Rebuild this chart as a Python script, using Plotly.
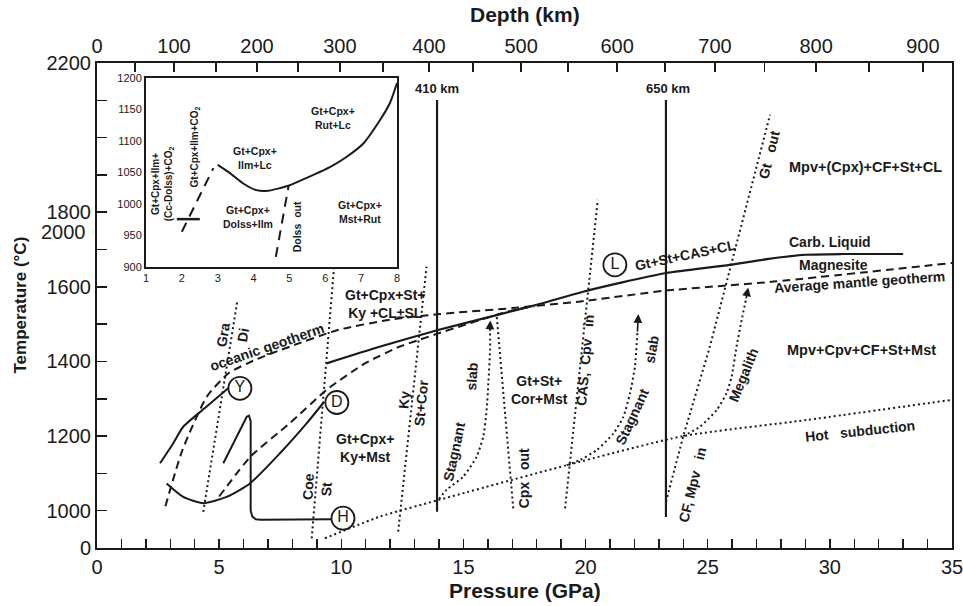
import plotly.graph_objects as go

# ---------------- axis data ----------------
pressure_ticks = list(range(0, 36))
pressure_labels = [str(p) if p % 5 == 0 else "" for p in pressure_ticks]

depth_km = [0, 50, 100, 150, 200, 250, 300, 350, 400, 450, 500, 550, 600, 650, 700, 750, 800, 850, 900]
depth_P = [0, 1.56, 3.15, 4.87, 6.55, 8.23, 9.94, 11.70, 13.59, 15.39, 17.36, 19.28, 21.29,
           23.25, 25.3, 27.33, 29.44, 31.6, 33.81]
depth_labels = [str(d) if d % 100 == 0 else "" for d in depth_km]

temp_ticks = [900, 1000, 1100, 1200, 1300, 1400, 1500, 1600, 1700, 1800, 1900, 2000, 2100, 2200]
temp_labels = ["0", "1000", "", "1200", "", "1400", "", "1600", "", "1800", "", "", "", "2200"]

# ---------------- main curves (P in GPa, T in degC) ----------------
geotherm_P = [2.8, 3.5, 4.5, 5.4, 6.5, 7.9, 9.9, 12.0, 14.0, 17.0, 19.8, 23.3, 27.7, 35.0]
geotherm_T = [1012, 1163, 1306, 1369, 1405, 1440, 1485, 1512, 1527, 1543, 1561, 1590, 1614, 1664]

slab_geo_P = [5.0, 6.3, 7.9, 9.4, 11.0, 12.4, 13.2, 14.0, 15.0, 16.0, 17.0, 17.9]
slab_geo_T = [1038, 1146, 1235, 1324, 1396, 1440, 1458, 1476, 1497, 1518, 1537, 1548]

carb_P = [9.4, 11.6, 14.0, 16.4, 18.0, 19.9, 21.5, 23.3, 25.9, 27.5, 29.0, 30.5, 33.0]
carb_T = [1395, 1440, 1485, 1525, 1552, 1587, 1612, 1637, 1659, 1675, 1686, 1688, 1688]

pathY_P = [2.58, 3.12, 3.53, 4.49, 5.44]
pathY_T = [1127, 1181, 1225, 1279, 1332]

pathD_P = [2.85, 3.53, 4.35, 5.31, 6.26, 7.49, 8.58, 9.3]
pathD_T = [1073, 1037, 1020, 1037, 1073, 1154, 1234, 1292]

pathH_P = [5.17, 5.85, 6.13, 6.22, 6.29, 6.29, 6.36, 6.50, 6.70, 9.62]
pathH_T = [1127, 1216, 1252, 1255, 1240, 1000, 984, 977, 976, 977]

wall410_P = [13.92, 13.92]
wall410_T = [997, 2101]
wall650_P = [23.29, 23.29]
wall650_T = [983, 2101]

gra_di_P = [4.35, 5.74]
gra_di_T = [997, 1560]
coe_st_P = [8.79, 9.70]
coe_st_T = [926, 1650]
ky_st_P = [12.33, 13.49]
ky_st_T = [944, 1654]
cpx_out_P = [17.04, 16.36]
cpx_out_T = [1006, 1524]
cas_cpv_P = [19.16, 20.5]
cas_cpv_T = [1006, 1833]
gt_out_P = [23.29, 24.0, 25.09, 27.55]
gt_out_T = [1024, 1200, 1440, 2061]

hot_sub_P = [9.33, 11.58, 14.0, 19.23, 24.0, 29.05, 34.98]
hot_sub_T = [926, 984, 1029, 1122, 1200, 1243, 1297]

stag1_P = [14.0, 14.31, 14.99, 15.54, 15.81, 15.95, 16.02, 16.09, 16.09]
stag1_T = [1031, 1056, 1091, 1145, 1198, 1270, 1341, 1430, 1495]
stag2_P = [19.23, 19.77, 20.45, 21.14, 21.55, 21.82, 22.02, 22.12]
stag2_T = [1122, 1136, 1162, 1207, 1252, 1315, 1386, 1476]
megalith_P = [24.0, 24.68, 25.37, 25.77, 25.98, 26.18, 26.39, 26.56]
megalith_T = [1200, 1225, 1270, 1315, 1359, 1440, 1511, 1565]
arrow_tip_P = [16.1, 22.16, 26.66]
arrow_tip_T = [1510, 1527, 1598]

marker_labels = ["Y", "D", "H", "L"]
marker_P = [5.85, 9.82, 10.07, 21.2]
marker_T = [1328, 1290, 980, 1659]

# ---------------- inset data ----------------
inset_P_ticks = [1, 2, 3, 4, 5, 6, 7, 8]
inset_T_ticks = [900, 950, 1000, 1050, 1100, 1150, 1200]
inset_melt_P = [3.0, 3.34, 3.7, 4.08, 4.4, 4.97, 5.5, 6.14, 6.6, 7.06, 7.5, 7.8, 8.0]
inset_melt_T = [1062, 1049, 1033, 1022, 1021, 1029, 1042, 1059, 1075, 1096, 1131, 1160, 1192]
inset_co2_P = [2.0, 2.88]
inset_co2_T = [956, 1057]
inset_bar_P = [1.86, 2.5]
inset_bar_T = [976, 976]
inset_dol_P = [4.62, 4.98]
inset_dol_T = [916, 1030]

INK = "#1a1a1a"
FONT = "Liberation Sans, Arial, sans-serif"

fig = go.Figure()


def line(x, y, dash="solid", width=2.0, xa="x", ya="y", shape="spline"):
    fig.add_trace(go.Scatter(x=x, y=y, mode="lines", xaxis=xa, yaxis=ya,
                             line=dict(color=INK, width=width, dash=dash, shape=shape,
                                       smoothing=0.6),
                             hoverinfo="skip", showlegend=False))


DOT = "2px,3px"
DASH = "8px,5px"

# dotted boundaries
line(gra_di_P, gra_di_T, DOT, 2, shape="linear")
line(coe_st_P, coe_st_T, DOT, 2, shape="linear")
line(ky_st_P, ky_st_T, DOT, 2, shape="linear")
line(cpx_out_P, cpx_out_T, DOT, 2, shape="linear")
line(cas_cpv_P, cas_cpv_T, DOT, 2, shape="linear")
line(gt_out_P, gt_out_T, DOT, 2, shape="linear")
line(hot_sub_P, hot_sub_T, DOT, 2)
line(stag1_P, stag1_T, DOT, 2)
line(stag2_P, stag2_T, DOT, 2)
line(megalith_P, megalith_T, DOT, 2)

# dashed geotherms
line(geotherm_P, geotherm_T, DASH, 2)
line(slab_geo_P, slab_geo_T, DASH, 2)

# solid lines
line(carb_P, carb_T, "solid", 2.2)
line(pathY_P, pathY_T, "solid", 2)
line(pathD_P, pathD_T, "solid", 2)
line(pathH_P, pathH_T, "solid", 2, shape="linear")
line(wall410_P, wall410_T, "solid", 2.2, shape="linear")
line(wall650_P, wall650_T, "solid", 2.2, shape="linear")

# circled letters
fig.add_trace(go.Scatter(x=marker_P, y=marker_T, mode="markers+text", text=marker_labels,
                         textposition="middle center",
                         textfont=dict(family=FONT, size=16, color=INK),
                         marker=dict(symbol="circle", size=23, color="white",
                                     line=dict(color=INK, width=1.8)),
                         hoverinfo="skip", showlegend=False))

# dummy trace on the depth axis
fig.add_trace(go.Scatter(x=[0, 35], y=[900, 900], xaxis="x2", yaxis="y", mode="lines",
                         line=dict(width=0), hoverinfo="skip", showlegend=False))

# inset traces
line(inset_melt_P, inset_melt_T, "solid", 2, "x3", "y3")
line(inset_co2_P, inset_co2_T, "10px,7px", 2, "x3", "y3", shape="linear")
line(inset_dol_P, inset_dol_T, "10px,7px", 2, "x3", "y3", shape="linear")
line(inset_bar_P, inset_bar_T, "solid", 2.5, "x3", "y3", shape="linear")

annotations = []


def label(text, x, y, size=14, angle=0, bold=True, xref="x", yref="y", xanchor="center",
          yanchor="middle"):
    annotations.append(dict(text=("<b>%s</b>" % text) if bold else text, x=x, y=y,
                            xref=xref, yref=yref, showarrow=False, textangle=angle,
                            xanchor=xanchor, yanchor=yanchor,
                            font=dict(family=FONT, size=size, color=INK)))


# arrows at the end of slab paths
for (xs, ys, tx, ty) in [(stag1_P, stag1_T, arrow_tip_P[0], arrow_tip_T[0]),
                         (stag2_P, stag2_T, arrow_tip_P[1], arrow_tip_T[1]),
                         (megalith_P, megalith_T, arrow_tip_P[2], arrow_tip_T[2])]:
    annotations.append(dict(x=tx, y=ty, ax=xs[-1], ay=ys[-1], xref="x", yref="y",
                            axref="x", ayref="y", showarrow=True, arrowhead=2,
                            arrowsize=1.1, arrowwidth=1.6, arrowcolor=INK, text=""))

# main labels
label("410 km", 13.92, 2133, 13)
label("650 km", 23.37, 2133, 13)
label("Gt+Cpx+St+<br>Ky +CL±SL", 11.79, 1554, 14)
label("Gt+Cpx+<br>Ky+Mst", 10.97, 1168, 14)
label("Gt+St+<br>Cor+Mst", 18.13, 1323, 14)
label("Gt+St+CAS+CL", 24.1, 1686, 14, -12)
label("Mpv+(Cpx)+CF+St+CL", 31.44, 1921, 14.5)
label("Carb. Liquid", 30.0, 1720, 14)
label("Magnesite", 30.13, 1659, 14)
label("Average mantle geotherm", 31.23, 1612, 14, -4)
label("Mpv+Cpv+CF+St+Mst", 31.31, 1431, 14.5)
label("Hot &nbsp; subduction", 31.23, 1213, 14, -6)
label("oceanic geotherm", 6.96, 1439, 14, -19)
label("Gra", 5.16, 1471, 14, -80)
label("Di", 5.98, 1471, 14, -80)
label("Coe", 8.64, 1064, 14, -87)
label("St", 9.41, 1057, 14, -87)
label("Ky", 12.57, 1297, 14, -85)
label("St+Cor", 13.25, 1290, 14, -85)
label("Stagnant", 14.61, 1158, 14, -78)
label("slab", 15.34, 1359, 14, -86)
label("Cpx &nbsp; out", 17.48, 1087, 14, -90)
label("CAS, &nbsp;Cpv &nbsp; in", 19.98, 1404, 14, -85)
label("Stagnant", 21.89, 1252, 14, -65)
label("slab", 22.7, 1431, 14, -80)
label("Megalith", 26.46, 1364, 14, -68)
label("Gt &nbsp; out", 27.52, 1953, 14, -76)
label("CF, Mpv &nbsp; in", 24.37, 1069, 14, -76)

# inset labels
label("Gt+Cpx+Ilm+<br>(Cc-Dolss)+CO<sub>2</sub>", 1.46, 1032, 10, -90, xref="x3", yref="y3")
label("Gt+Cpx+Ilm+CO<sub>2</sub>", 2.37, 1090, 10, -90, xref="x3", yref="y3")
label("Gt+Cpx+<br>Ilm+Lc", 4.04, 1073, 10.5, 0, xref="x3", yref="y3")
label("Gt+Cpx+<br>Dolss+Ilm", 3.85, 980, 10.5, 0, xref="x3", yref="y3")
label("Dolss &nbsp;out", 5.2, 964, 10.5, -90, xref="x3", yref="y3")
label("Gt+Cpx+<br>Rut+Lc", 6.22, 1136, 10.5, 0, xref="x3", yref="y3")
label("Gt+Cpx+<br>Mst+Rut", 6.97, 988, 10.5, 0, xref="x3", yref="y3")

# axis titles and stray tick label
label("Depth (km)", 0.5, 1.101, 21, xref="paper", yref="paper")
label("Pressure (GPa)", 0.5, -0.087, 21, xref="paper", yref="paper")
label("Temperature (°C)", -0.090, 0.5, 17, -90, xref="paper", yref="paper")
label("2000", -0.011, 1747, 20, bold=False, xref="paper", yref="y", xanchor="right")

fig.update_layout(
    width=963, height=606,
    margin=dict(l=97, r=11, t=63, b=58, autoexpand=False),
    paper_bgcolor="white", plot_bgcolor="white",
    font=dict(family=FONT, size=20, color=INK),
    showlegend=False,
    annotations=annotations,
    xaxis=dict(range=[0, 35], tickmode="array", tickvals=pressure_ticks, ticktext=pressure_labels,
               ticks="inside", ticklen=9, tickwidth=1.5, tickcolor=INK, automargin=False,
               ticklabeloverflow="allow",
               showline=True, linewidth=2, linecolor=INK, mirror=False,
               showgrid=False, zeroline=False, tickfont=dict(size=20)),
    xaxis2=dict(range=[0, 35], overlaying="x", side="top", anchor="y", tickmode="array",
                tickvals=depth_P, ticktext=depth_labels, ticks="inside", ticklen=9,
                tickwidth=1.5, tickcolor=INK, showline=True, linewidth=2, linecolor=INK,
                ticklabeloverflow="allow",
                automargin=False, showgrid=False, zeroline=False, tickfont=dict(size=20)),
    yaxis=dict(range=[900, 2200], tickmode="array", tickvals=temp_ticks, ticktext=temp_labels,
               ticks="inside", ticklen=10, tickwidth=1.5, tickcolor=INK, automargin=False,
               ticklabeloverflow="allow",
               showline=True, linewidth=2, linecolor=INK, mirror=True,
               showgrid=False, zeroline=False, tickfont=dict(size=20)),
    xaxis3=dict(domain=[0.0573, 0.3509], anchor="y3", range=[1, 8], tickmode="array",
                tickvals=inset_P_ticks, ticks="", showline=True, linewidth=2, linecolor=INK,
                automargin=False, mirror=True, showgrid=False, zeroline=False,
                tickfont=dict(size=11)),
    yaxis3=dict(domain=[0.5794, 0.969], anchor="x3", range=[900, 1200], tickmode="array",
                tickvals=inset_T_ticks, ticks="", showline=True, linewidth=2, linecolor=INK,
                automargin=False, mirror=True, showgrid=False, zeroline=False,
                tickfont=dict(size=11)),
    shapes=[dict(type="rect", xref="paper", yref="paper", x0=0.0573, x1=0.3509,
                 y0=0.5794, y1=0.969, fillcolor="white", line=dict(width=0), layer="below")],
)

fig.write_html("out.html", config={"displayModeBar": False, "staticPlot": True},
               post_script="document.body.style.margin='0';document.body.style.padding='0';")
